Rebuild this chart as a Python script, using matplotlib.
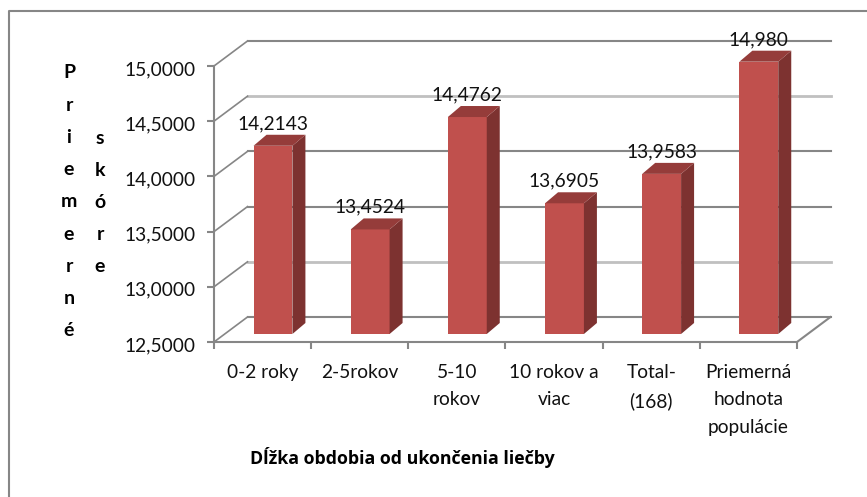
import matplotlib
matplotlib.use('Agg')
import matplotlib.pyplot as plt
from matplotlib.lines import Line2D
from matplotlib.patches import Polygon
from matplotlib.transforms import ScaledTranslation

categories = ['0-2 roky', '2-5rokov', '5-10\nrokov', '10 rokov a\nviac', 'Total-\n(168)',
              'Priemerná\nhodnota\npopulácie']
values = [14.2143, 13.4524, 14.4762, 13.6905, 13.9583, 14.980]
value_labels = ['14,2143', '13,4524', '14,4762', '13,6905', '13,9583', '14,980']
y_ticks = [12.5, 13.0, 13.5, 14.0, 14.5, 15.0]
y_tick_labels = ['12,5000', '13,0000', '13,5000', '14,0000', '14,5000', '15,0000']
y_title_1 = 'Priemerné'
y_title_2 = 'skóre'
x_title = 'Dĺžka obdobia od ukončenia liečby'

W, H = 867, 497
plt.rcParams['font.family'] = ['Lato', 'DejaVu Sans']


def box(left, top, right, bottom):
    return [left/W, 1-bottom/H, (right-left)/W, (bottom-top)/H]


def shift(ax, dx, dy):
    # px offset on top of the data transform (72 pt = 100 px here)
    return ax.transData + ScaledTranslation(dx/100, -dy/100, fig.dpi_scale_trans)


fig = plt.figure(figsize=(W/100, H/100), dpi=100)

# outer frame, only top and left are inside the picture
fig.add_artist(Line2D([9/W, 9/W, 1], [0, 1-11/H, 1-11/H], color='#868686', lw=1.5))

# front plane of the chart: axis lines, ticks and tick labels
ax = fig.add_axes(box(214, 66, 797, 342))
ax.set_xlim(-0.5, 5.5)
ax.set_ylim(12.5, 15)
ax.patch.set_visible(False)
for s in ['top', 'right']:
    ax.spines[s].set_visible(False)
for s in ['left', 'bottom']:
    ax.spines[s].set_color('#868686')
    ax.spines[s].set_linewidth(1.5)
ax.set_yticks(y_ticks)
ax.set_yticklabels(y_tick_labels, fontsize=13.8, color='#111111')
ax.set_xticks([i-0.5 for i in range(7)])
ax.set_xticklabels([])
ax.tick_params(axis='both', color='#868686', width=1.5, length=5)
ax.tick_params(axis='y', pad=8.5)
for lbl in ax.get_yticklabels():
    lbl.set_transform(lbl.get_transform() + ScaledTranslation(0, -2/100, fig.dpi_scale_trans))

# back wall gridlines and the diagonals joining them to the axis
back = shift(ax, 33.5, -25)
grid_colors = ['#868686', '#C0C0C0', '#868686', '#868686', '#C0C0C0', '#868686']
grid_widths = [1.5, 2, 1.5, 1.5, 2, 1.5]
for t, c, lw in zip(y_ticks, grid_colors, grid_widths):
    ax.plot([-0.5, 5.5], [t, t], transform=back, color=c, lw=lw, clip_on=False, zorder=1)
    ax.plot([-0.5, -0.5+33.5/97.2], [t, t+25/110.4], color='#868686', lw=1.2, clip_on=False, zorder=1)
ax.plot([5.5, 5.5+33.5/97.2], [12.5, 12.5+25/110.4], color='#868686', lw=1.5, clip_on=False, zorder=1)

# category labels
for i, lab in enumerate(categories):
    ax.annotate(lab, (i, 12.5), xytext=(0, -15.5), textcoords='offset points', ha='center', va='top',
                fontsize=13.8, color='#111111', linespacing=1.76, annotation_clip=False)

# bars sit a little inside the floor, with a slightly smaller scale
ax2 = fig.add_axes(box(224.4, 334-274.5, 807.4, 334))
ax2.set_xlim(-0.5, 5.5)
ax2.set_ylim(12.5, 15)
ax2.axis('off')
bar_w = 0.40
dx = 13/97.2
dy = 11/109.8
ax2.bar(range(len(values)), [v-12.5 for v in values], bottom=12.5, width=bar_w, color='#C0504D',
        clip_on=False, zorder=3)
for i, v in enumerate(values):
    r = i + bar_w/2
    l = i - bar_w/2
    ax2.add_patch(Polygon([(r, 12.5), (r+dx, 12.5+dy), (r+dx, v+dy), (r, v)], fc='#7D3230', ec='none',
                          clip_on=False, zorder=3))
    ax2.add_patch(Polygon([(l, v), (l+dx, v+dy), (r+dx, v+dy), (r, v)], fc='#953C3A', ec='none',
                          clip_on=False, zorder=3))
    ax2.annotate(value_labels[i], (i, v), xytext=(0, 16), textcoords='offset points', ha='center',
                 va='center', fontsize=13.8, color='#111111', annotation_clip=False, zorder=5)

# axis titles, one letter per row
for x0, y0, word in [(69, 73, y_title_1), (100, 138, y_title_2)]:
    for i, ch in enumerate(word):
        fig.text(x0/W, 1-(y0+i*32.2)/H, ch, ha='center', va='center', fontsize=14,
                 fontweight='bold', color='black')
fig.text(402/W, 1-458/H, x_title, ha='center', va='center', fontsize=12.8, fontweight='bold',
         family='Open Sans', color='black')

fig.savefig('out.png', dpi=100)
